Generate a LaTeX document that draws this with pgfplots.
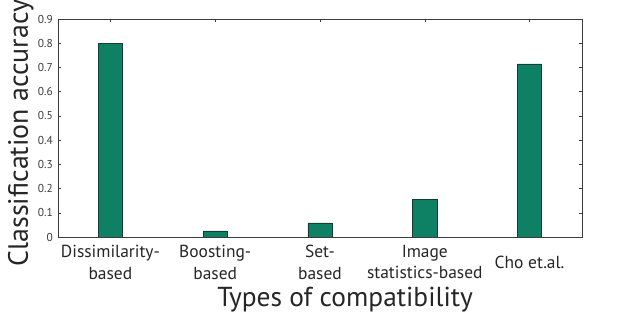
\documentclass[border=0pt]{standalone}
\usepackage{fontspec}
\setmainfont{PT Sans}
\usepackage{pgfplots}
\pgfplotsset{compat=1.18}
\definecolor{barfill}{RGB}{14,128,100}
\definecolor{baredge}{RGB}{25,60,50}
\definecolor{axgray}{RGB}{60,60,60}
\begin{document}
\begin{tikzpicture}
\begin{axis}[
  name=ax,
  scale only axis,
  width=524bp, height=218bp,
  xmin=0.5, xmax=5.5,
  ymin=0, ymax=0.9,
  ytick={0,0.1,...,0.9},
  xtick={1,2,3,4,5},
  xticklabels={Dissimilarity-\\based, Boosting-\\based, Set-\\based, Image\\statistics-based, Cho et.al.},
  tick align=inside,
  tick pos=both,
  major tick length=3bp,
  axis line style={axgray, line width=0.8pt},
  every tick/.style={axgray, line width=0.5pt},
  /pgf/number format/assume math mode=true,
  yticklabel style={font=\fontsize{11.5}{13}\selectfont, color=axgray, inner sep=0pt, anchor=east, xshift=-5bp},
  xticklabel style={font=\fontsize{17.5}{22}\selectfont, align=center, anchor=center, yshift=-25bp, color=black!85},
  ylabel={Classification accuracy},
  xlabel={Types of compatibility},
  ylabel style={font=\fontsize{28}{30}\selectfont, color=black!85, inner sep=0pt, at={(axis description cs:0,0.477)}, anchor=base, yshift=30bp},
  xlabel style={font=\fontsize{27.5}{30}\selectfont, color=black!85, inner sep=0pt, at={(axis description cs:0.548,0)}, anchor=base, yshift=-70bp},
  ]
\addplot[ybar, bar width=0.23, fill=barfill, draw=baredge, line width=0.6pt]
  coordinates {(1,0.800) (2,0.025) (3,0.058) (4,0.156) (5,0.715)};
\end{axis}
\pgfresetboundingbox
\path ([xshift=-58bp,yshift=-80bp]ax.south west) rectangle ([xshift=50bp,yshift=19bp]ax.north east);
\end{tikzpicture}
\end{document}
